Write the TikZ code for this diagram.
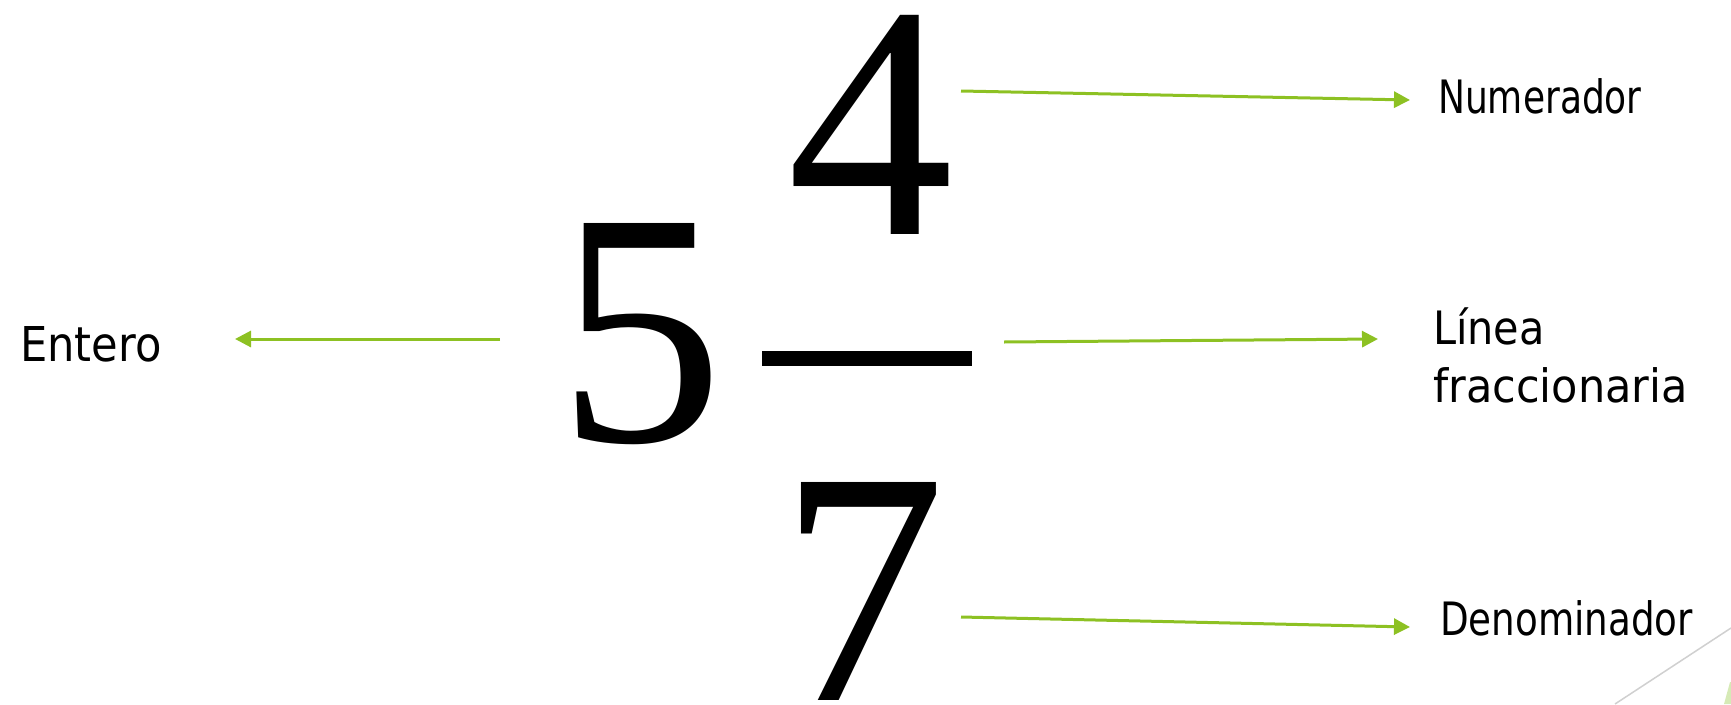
\documentclass[tikz,border=0pt]{standalone}
\usepackage{fontspec}
\usetikzlibrary{arrows.meta}
\newfontfamily\labfont{DejaVu Sans Condensed}
\newfontfamily\digfont{Liberation Serif}
\definecolor{arrowgreen}{RGB}{141,193,35}
\definecolor{palegreen}{RGB}{214,234,182}
\definecolor{linegray}{RGB}{208,208,208}
\tikzset{
  label/.style={inner sep=0pt, anchor=base west, font=\labfont\fontsize{46}{58}\selectfont, align=left},
  digit/.style={inner sep=0pt, anchor=base, font=\digfont\fontsize{333}{333}\selectfont},
  pointer/.style={draw=arrowgreen, line width=3pt, -{Triangle[length=16pt,width=16pt]}}
}
\begin{document}
\begin{tikzpicture}[x=1pt,y=-1pt]
\useasboundingbox (0,0) rectangle (1731,704);
% digits
\node[digit] (num) at (871,234) {4};
\node[digit] (whole) at (641,441) {5};
\node[digit] (den) at (863,700) {7};
\fill (762,351) rectangle (972,366);
\coordinate (bar) at (972,358);
% labels
\node[label] (lnum) at (1438,113) {\scalebox{0.87}[1]{Numerador}};
\node[label, font=\labfont\fontsize{48}{58}\selectfont] (lent) at (20,361) {Entero};
\node[label, anchor=north west] (llin) at (1433,308) {Línea\\\scalebox{1.04}[1]{fraccionaria}};
\node[label] (lden) at (1440,635) {\scalebox{0.9}[1]{Denominador}};
% connector end points
\coordinate (s1) at (961,91);   \coordinate (e1) at (1410,100);
\coordinate (s2) at (500,339);  \coordinate (e2) at (235,339);
\coordinate (s3) at (1004,342); \coordinate (e3) at (1378,339);
\coordinate (s4) at (961,617);  \coordinate (e4) at (1410,627);
\draw[pointer] (s1) -- (e1);
\draw[pointer] (s2) -- (e2);
\draw[pointer] (s3) -- (e3);
\draw[pointer] (s4) -- (e4);
% corner decoration
\draw[linegray, line width=1.5pt] (1615,704) -- (1731,628);
\fill[palegreen] (1724,704) -- (1730,682) -- (1731,682) -- (1731,704) -- cycle;
\end{tikzpicture}
\end{document}
